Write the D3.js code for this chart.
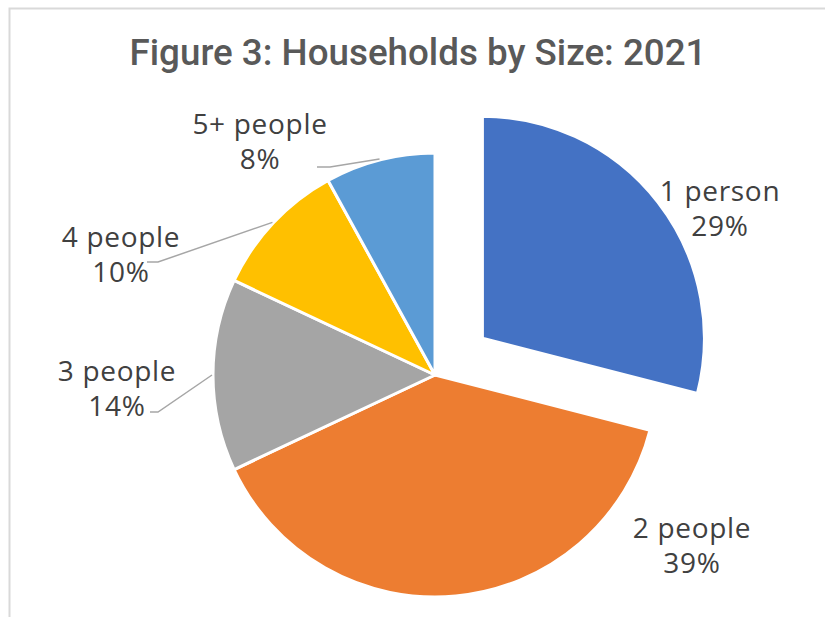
<!DOCTYPE html>
<html>
<head>
	<meta charset="utf-8">
	<script src="https://d3js.org/d3.v7.min.js"></script>
	<style>
		body { margin: 0; background: #fff; }
		.title { font-family: Roboto, "Liberation Sans", sans-serif; font-weight: 500; fill: #595959; }
		.lbl { font-family: "Open Sans", "Noto Sans", sans-serif; fill: #404040; letter-spacing: 0.7px; }
	</style>
</head>
<body>
	<div id="chart_container"></div>

	<script>
		// data
		var categories = ["1 person", "2 people", "3 people", "4 people", "5+ people"];
		var shares = [29, 39, 14, 10, 8];
		var colours = ["#4472C4", "#ED7D31", "#A5A5A5", "#FFC000", "#5B9BD5"];

		var width = 825,
			height = 617;
		var cx = 435,
			cy = 375,
			radius = 222,
			explode = 60;

		// label placement (centre x, first baseline y), elbow + end of leader where Excel drew one
		var labelLayout = [
			{ x: 720, y: 201, leader: null },
			{ x: 692, y: 538, leader: null },
			{ x: 117, y: 381, leader: [[158, 412], [150, 412]] },
			{ x: 121, y: 247, leader: [[158, 262], [147, 262]] },
			{ x: 260, y: 134, leader: [[330, 167], [317, 167]] }
		];

		var svg = d3.select("#chart_container")
			.append("svg")
			.attr("width", width)
			.attr("height", height);

		// chart frame
		svg.append("path")
			.attr("d", "M9.5," + height + "V8.5H" + width)
			.attr("fill", "none")
			.attr("stroke", "#d9d9d9")
			.attr("stroke-width", 2);

		svg.append("text")
			.attr("class", "title")
			.attr("x", 418)
			.attr("y", 65)
			.attr("text-anchor", "middle")
			.attr("font-size", 37)
			.attr("textLength", 577)
			.attr("lengthAdjust", "spacingAndGlyphs")
			.text("Figure 3: Households by Size: 2021");

		var pie = d3.pie().sort(null).value(function(d) { return d; });
		var arcs = pie(shares);
		var arc = d3.arc().innerRadius(0).outerRadius(radius);

		function midAngle(d) { return (d.startAngle + d.endAngle) / 2; }

		var gPie = svg.append("g")
			.attr("transform", "translate(" + cx + "," + cy + ")");

		gPie.selectAll("path.slice")
			.data(arcs)
			.enter()
			.append("path")
			.attr("class", "slice")
			.attr("d", arc)
			.attr("fill", function(d, i) { return colours[i]; })
			.attr("stroke", "#fff")
			.attr("stroke-width", 3)
			.attr("stroke-linejoin", "round")
			.attr("transform", function(d, i) {
				if (i != 0) return null;
				var p = d3.pointRadial(midAngle(d), explode);
				return "translate(" + p[0] + "," + p[1] + ")";
			});

		// leader lines
		arcs.forEach(function(d, i) {
			var lay = labelLayout[i];
			if (!lay.leader) return;
			var s = d3.pointRadial(midAngle(d), radius + 1);
			var pts = [[cx + s[0], cy + s[1]]].concat(lay.leader);
			svg.append("path")
				.attr("d", d3.line()(pts))
				.attr("fill", "none")
				.attr("stroke", "#a6a6a6")
				.attr("stroke-width", 1.5);
		});

		var labels = svg.selectAll("text.lbl")
			.data(arcs)
			.enter()
			.append("text")
			.attr("class", "lbl")
			.attr("font-size", 28)
			.attr("text-anchor", "middle");

		labels.append("tspan")
			.attr("x", function(d, i) { return labelLayout[i].x; })
			.attr("y", function(d, i) { return labelLayout[i].y; })
			.text(function(d, i) { return categories[i]; });
		labels.append("tspan")
			.attr("x", function(d, i) { return labelLayout[i].x; })
			.attr("dy", 35)
			.text(function(d) { return d.data + "%"; });
	</script>
</body>
</html>
